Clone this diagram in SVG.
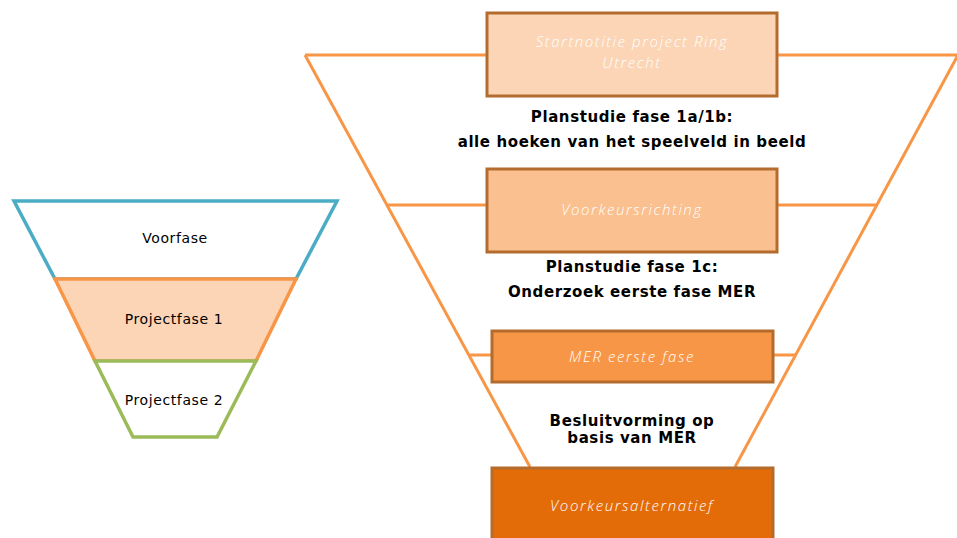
<svg xmlns="http://www.w3.org/2000/svg" width="957" height="538" viewBox="0 0 957 538">
<style>
.lbl{font-family:"DejaVu Sans","Liberation Sans",sans-serif;font-size:14px;letter-spacing:0.6px;fill:#000;text-anchor:middle}
.bold{font-family:"DejaVu Sans","Liberation Sans",sans-serif;font-size:15px;font-weight:bold;letter-spacing:0.6px;fill:#000;text-anchor:middle}
.box{stroke:#B46C2E;stroke-width:3}
.btxt{font-family:"Open Sans","DejaVu Sans",sans-serif;font-style:italic;font-weight:300;font-size:15px;letter-spacing:1.6px;fill:#fff;text-anchor:middle}
.fl{stroke:#F79646;stroke-width:3;fill:none}
</style>
<rect width="957" height="538" fill="#fff"/>
<g id="left-funnel">
<g id="voorfase">
<polygon points="14,201 337,201 296,279 55,279" fill="#fff" stroke="#4BACC6" stroke-width="3.5"/>
<text class="lbl" x="175" y="243">Voorfase</text>
</g>
<g id="projectfase1">
<polygon points="55,279 296,279 256,361 95,361" fill="#FBD5B5" stroke="#F79646" stroke-width="3.5"/>
<text class="lbl" x="174" y="324">Projectfase 1</text>
</g>
<g id="projectfase2">
<polygon points="95,361 256,361 217,437 133,437" fill="#fff" stroke="#9BBB59" stroke-width="3.5"/>
<text class="lbl" x="174" y="405">Projectfase 2</text>
</g>
</g>
<g id="connectors">
<polyline class="fl" points="305,55 530,467"/>
<polyline class="fl" points="958,55 735,467"/>
<line class="fl" x1="305" y1="55" x2="486" y2="55"/>
<line class="fl" x1="778" y1="55" x2="957" y2="55"/>
<line class="fl" x1="388" y1="205" x2="486" y2="205"/>
<line class="fl" x1="778" y1="205" x2="877" y2="205"/>
<line class="fl" x1="470" y1="355" x2="491" y2="355"/>
<line class="fl" x1="774" y1="355" x2="795" y2="355"/>
</g>
<g id="startnotitie">
<rect class="box" x="487" y="13" width="290" height="83" fill="#FBD5B5"/>
<text class="btxt" x="632" y="47">Startnotitie project Ring</text>
<text class="btxt" x="632" y="68">Utrecht</text>
</g>
<g id="label-1ab">
<text class="bold" x="632" y="122">Planstudie fase 1a/1b:</text>
<text class="bold" x="632" y="147">alle hoeken van het speelveld in beeld</text>
</g>
<g id="voorkeursrichting">
<rect class="box" x="487" y="169" width="290" height="83" fill="#FAC090"/>
<text class="btxt" x="632" y="215">Voorkeursrichting</text>
</g>
<g id="label-1c">
<text class="bold" x="632" y="272">Planstudie fase 1c:</text>
<text class="bold" x="632" y="297">Onderzoek eerste fase MER</text>
</g>
<g id="mer-eerste-fase">
<rect class="box" x="492" y="331" width="281" height="51" fill="#F79646"/>
<text class="btxt" x="632" y="362">MER eerste fase</text>
</g>
<g id="label-besluit">
<text class="bold" x="632" y="426">Besluitvorming op</text>
<text class="bold" x="632" y="443">basis van MER</text>
</g>
<g id="voorkeursalternatief">
<rect class="box" x="492" y="468" width="281" height="80" fill="#E36C09"/>
<text class="btxt" x="632" y="511">Voorkeursalternatief</text>
</g>
</svg>
